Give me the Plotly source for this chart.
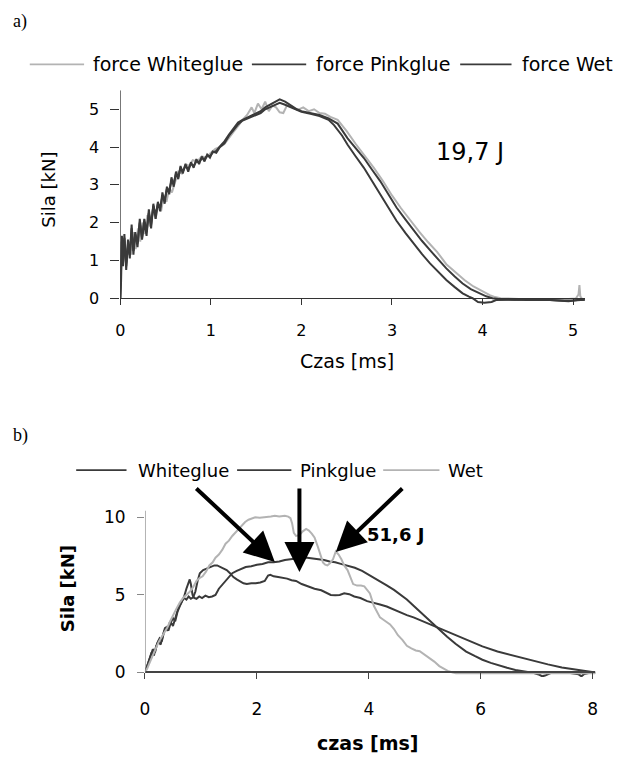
import plotly.graph_objects as go

# ---------------- data: panel a) ----------------
a_white_t = [0.00,0.012,0.025,0.045,0.07,0.095,0.12,0.145,0.17,0.195,
             0.22,0.245,0.27,0.30,0.33,0.36,0.39,0.42,0.45,0.48,
             0.51,0.54,0.57,0.60,0.64,0.68,0.72,0.76,0.80,0.85,
             0.90,0.95,1.00,1.05,
             1.10,1.15,1.20,1.25,1.30,1.35,1.40,1.45,1.48,1.52,
             1.56,1.60,1.64,1.68,1.72,1.76,1.80,1.84,1.90,1.96,
             2.02,2.08,2.14,2.20,2.26,2.32,2.40,2.50,2.60,2.70,
             2.80,2.90,3.00,3.10,3.20,3.30,3.40,3.50,3.60,3.70,
             3.80,3.90,4.00,4.08,4.14,4.20,4.40,4.60,4.80,4.95,
             5.03,5.06,5.07,5.08,5.10,5.13]
a_white_f = [0.00,1.50,1.10,1.55,0.95,1.50,1.15,1.75,1.30,1.85,
             1.50,2.00,1.70,2.20,1.90,2.35,2.10,2.50,2.30,2.70,
             2.55,2.90,2.80,3.05,3.35,3.30,3.55,3.50,3.65,3.62,
             3.75,3.72,3.85,3.95,
             4.00,4.08,4.25,4.40,4.55,4.72,4.85,5.05,4.90,5.15,
             5.00,5.20,4.95,5.10,5.05,4.92,4.90,5.10,5.05,4.98,
             5.05,4.95,5.00,4.90,4.88,4.80,4.72,4.42,4.08,3.78,
             3.45,3.10,2.72,2.38,2.06,1.76,1.48,1.22,0.90,0.68,
             0.48,0.31,0.17,0.08,0.03,0.00,-0.02,-0.03,-0.02,-0.02,
             -0.01,0.10,0.35,0.05,-0.02,-0.02]

a_pink_t = [0.000,0.008,0.018,0.030,0.045,0.065,0.085,0.105,0.125,0.145,
            0.165,0.19,0.215,0.24,0.265,0.29,0.315,0.34,0.365,0.39,
            0.415,0.44,0.465,0.49,0.515,0.54,0.565,0.59,0.615,0.64,
            0.665,0.69,0.72,0.75,0.78,0.81,0.84,0.87,0.90,0.93,
            0.96,0.99,1.02,1.06,1.10,
            1.15,1.20,1.25,1.30,1.35,1.40,1.45,1.50,1.55,1.60,
            1.65,1.70,1.76,1.82,1.88,1.95,2.00,2.10,2.20,2.30,
            2.36,2.45,2.51,2.60,2.69,2.78,2.87,2.96,3.05,3.15,
            3.24,3.33,3.42,3.51,3.60,3.69,3.78,3.85,3.89,3.95,
            4.02,4.10,4.15,4.30,4.50,4.70,4.85,4.95,5.05,5.13]
a_pink_f = [0.00,0.50,1.65,0.85,1.70,0.75,1.55,1.05,1.95,1.15,
            1.75,1.35,2.10,1.55,2.00,1.65,2.35,1.85,2.50,2.10,
            2.55,2.30,2.80,2.50,2.95,2.75,3.20,2.95,3.35,3.15,
            3.50,3.30,3.55,3.35,3.60,3.45,3.68,3.55,3.75,3.62,
            3.80,3.72,3.88,3.85,4.00,
            4.10,4.30,4.45,4.60,4.70,4.75,4.80,4.85,4.90,5.00,
            5.06,5.10,5.17,5.12,5.05,4.97,4.93,4.88,4.82,4.72,
            4.58,4.30,4.06,3.75,3.45,3.10,2.75,2.40,2.05,1.72,
            1.44,1.17,0.92,0.69,0.48,0.30,0.13,0.04,0.00,-0.10,
            -0.12,-0.10,-0.05,-0.04,-0.05,-0.04,-0.06,-0.08,-0.05,-0.04]

a_wet_t = [0.000,0.008,0.018,0.030,0.045,0.065,0.085,0.105,0.125,0.145,
           0.165,0.19,0.215,0.24,0.265,0.29,0.315,0.34,0.365,0.39,
           0.415,0.44,0.465,0.49,0.515,0.54,0.565,0.59,0.615,0.64,
           0.665,0.69,0.72,0.75,0.78,0.81,0.84,0.87,0.90,0.93,
           0.96,0.99,1.02,1.06,1.10,
           1.15,1.20,1.25,1.30,1.35,1.40,1.45,1.50,1.55,1.60,
           1.65,1.70,1.76,1.82,1.88,1.95,2.00,2.10,2.20,2.30,
           2.40,2.51,2.60,2.69,2.78,2.87,2.96,3.05,3.15,3.24,
           3.33,3.42,3.51,3.60,3.69,3.78,3.87,3.96,4.04,4.11,
           4.20,4.35,4.55,4.75,4.90,5.00,5.10,5.13]
a_wet_f = [0.00,0.40,1.55,0.95,1.60,0.85,1.45,1.15,1.85,1.25,
           1.70,1.45,2.00,1.60,2.10,1.75,2.25,1.95,2.45,2.20,
           2.50,2.40,2.70,2.60,2.90,2.85,3.10,3.05,3.30,3.20,
           3.45,3.35,3.50,3.42,3.55,3.50,3.62,3.60,3.70,3.68,
           3.78,3.76,3.85,3.90,4.02,
           4.15,4.33,4.50,4.65,4.72,4.78,4.84,4.88,4.95,5.05,
           5.12,5.18,5.26,5.20,5.10,5.00,4.95,4.90,4.85,4.76,
           4.62,4.23,3.98,3.71,3.40,3.10,2.75,2.40,2.08,1.79,
           1.52,1.27,1.02,0.79,0.58,0.39,0.24,0.13,0.05,0.00,
           -0.03,-0.04,-0.03,-0.05,-0.07,-0.06,-0.04,-0.04]

a_x_ticks = [0, 1, 2, 3, 4, 5]
a_y_ticks = [0, 1, 2, 3, 4, 5]
a_names = ["force Whiteglue", "force Pinkglue", "force Wet"]
a_energy = "19,7 J"

# ---------------- data: panel b) ----------------
b_white_t = [0.00,0.04,0.08,0.12,0.16,0.20,0.24,0.28,0.32,0.36,
             0.40,0.45,0.50,0.55,0.60,0.65,0.70,0.74,0.78,0.80,
             0.82,0.85,0.88,0.92,0.97,1.02,1.08,1.14,1.20,1.26,
             1.32,1.40,1.48,1.56,1.64,1.72,1.80,1.90,2.00,2.10,
             2.20,2.30,2.40,2.50,2.60,2.70,2.80,2.90,3.00,3.10,
             3.20,3.30,3.40,3.50,3.62,3.75,3.88,4.00,4.10,4.20,
             4.32,4.45,4.56,4.68,4.80,4.92,5.03,5.15,5.28,5.40,
             5.55,5.74,5.90,6.03,6.18,6.32,6.47,6.62,6.75,6.85,
             6.95,7.05,7.10,7.15,7.25,7.40,7.60,7.75,7.80,7.85,
             7.95,8.05]
b_white_f = [0.00,0.40,0.90,1.30,1.10,1.70,2.00,1.80,2.40,2.90,
             2.70,3.30,3.00,3.60,4.20,4.50,4.90,5.40,5.90,6.00,
             5.70,5.00,4.80,4.75,4.90,4.80,4.95,4.85,4.90,5.00,
             5.40,5.75,6.10,6.40,6.55,6.65,6.80,6.85,6.95,7.00,
             7.10,7.10,7.15,7.25,7.30,7.35,7.40,7.40,7.35,7.30,
             7.25,7.15,7.10,7.00,6.90,6.75,6.55,6.30,6.10,5.90,
             5.62,5.32,5.05,4.70,4.30,3.90,3.50,3.10,2.70,2.30,
             1.85,1.35,1.05,0.82,0.62,0.45,0.30,0.16,0.07,0.02,
             -0.03,-0.15,-0.25,-0.20,-0.04,-0.03,-0.03,-0.12,-0.25,-0.10,
             -0.02,-0.02]

b_pink_t = [0.00,0.03,0.06,0.10,0.14,0.18,0.22,0.26,0.30,0.34,
            0.38,0.42,0.46,0.50,0.54,0.58,0.62,0.66,0.70,0.74,
            0.78,0.82,0.86,0.90,0.94,0.98,1.04,1.10,1.18,1.24,
            1.29,1.34,1.40,1.46,1.52,1.58,1.64,1.70,1.76,1.82,
            1.90,1.98,2.06,2.14,2.20,2.24,2.30,2.38,2.46,2.54,
            2.62,2.70,2.80,2.91,3.03,3.15,3.25,3.32,3.40,3.48,
            3.56,3.65,3.74,3.85,3.97,4.09,4.20,4.32,4.44,4.56,
            4.68,4.80,5.00,5.20,5.40,5.60,5.85,6.03,6.30,6.62,
            6.90,7.20,7.45,7.68,7.85,7.97,8.05]
b_pink_f = [0.00,0.30,0.70,1.10,1.50,1.30,1.90,2.20,2.00,2.60,
            2.90,2.70,3.20,3.50,3.30,3.90,4.30,4.60,4.80,4.70,
            4.90,4.75,4.85,5.20,5.90,6.40,6.60,6.70,6.80,6.90,
            6.90,6.80,6.70,6.60,6.40,6.15,6.00,5.85,5.75,5.70,
            5.75,5.75,5.80,5.90,6.25,6.30,6.20,6.15,6.10,6.05,
            5.95,5.90,5.70,5.55,5.40,5.30,5.15,5.00,4.98,5.00,
            5.10,5.05,4.90,4.80,4.60,4.50,4.38,4.25,4.05,3.90,
            3.70,3.55,3.25,2.95,2.62,2.30,1.95,1.68,1.35,1.05,
            0.78,0.52,0.32,0.18,0.08,0.02,0.00]

b_wet_t = [0.00,0.04,0.08,0.12,0.16,0.20,0.25,0.30,0.35,0.40,
           0.45,0.50,0.56,0.62,0.68,0.74,0.80,0.86,0.92,0.98,
           1.03,1.09,1.15,1.21,1.26,1.32,1.38,1.44,1.50,1.56,
           1.62,1.68,1.74,1.79,1.85,1.91,1.97,2.05,2.15,2.25,
           2.32,2.40,2.50,2.56,2.60,2.63,2.66,2.70,2.76,2.82,
           2.88,2.93,2.98,3.03,3.09,3.14,3.18,3.22,3.26,3.31,
           3.36,3.41,3.46,3.51,3.56,3.62,3.67,3.72,3.79,3.86,
           3.92,3.97,4.02,4.09,4.15,4.20,4.28,4.38,4.45,4.52,
           4.60,4.68,4.76,4.84,4.91,5.00,5.09,5.17,5.26,5.33,
           5.41,5.50,5.56,5.80,6.20,6.60,7.00,7.40,7.80,8.05]
b_wet_f = [0.00,0.25,0.60,0.90,1.30,1.60,2.00,2.30,2.60,2.90,
           3.30,3.70,4.10,4.50,4.80,5.00,5.20,5.50,5.90,6.10,
           6.20,6.50,6.90,7.10,7.40,7.60,7.90,8.30,8.50,8.80,
           9.05,9.30,9.50,9.70,9.85,9.95,10.00,9.98,10.00,10.05,
           10.10,10.05,10.10,10.05,9.95,9.60,9.00,8.80,8.85,9.10,
           9.25,9.15,8.95,8.70,8.10,7.50,7.10,6.95,6.90,7.05,
           7.30,7.80,7.60,7.30,6.90,6.60,6.10,5.70,5.60,5.60,
           5.55,5.30,5.10,4.30,3.90,3.55,3.35,3.10,2.80,2.40,
           2.10,1.72,1.55,1.42,1.37,1.15,0.95,0.70,0.41,0.25,
           0.10,0.00,-0.05,-0.05,-0.05,-0.05,-0.04,-0.05,-0.05,-0.05]

b_x_ticks = [0, 2, 4, 6, 8]
b_y_ticks = [0, 5, 10]
b_names = ["Whiteglue", "Pinkglue", "Wet"]
b_energy = "51,6 J"
# arrow targets (time, force) for Whiteglue, Pinkglue, Wet
b_arrow_t = [2.32, 2.76, 3.41]
b_arrow_f = [7.12, 6.48, 7.76]

# ---------------- styling ----------------
W, H = 623, 760
OFF = 8  # the page body margin shifts the figure by this many pixels
FONT = "DejaVu Sans"
DARK = "#3a3a3a"
LIGHT = "#b3b3b3"


def fx(p):
    return (p - OFF) / W


def fy(p):
    return 1 - (p - OFF) / H


fig = go.Figure()

a_series = [(a_white_t, a_white_f, LIGHT), (a_pink_t, a_pink_f, DARK), (a_wet_t, a_wet_f, DARK)]
for (t, f, c), n in zip(a_series, a_names):
    fig.add_trace(go.Scatter(x=t, y=f, mode="lines", name=n, showlegend=False,
                             line=dict(color=c, width=2), xaxis="x", yaxis="y"))

b_series = [(b_white_t, b_white_f, DARK), (b_pink_t, b_pink_f, DARK), (b_wet_t, b_wet_f, LIGHT)]
for (t, f, c), n in zip(b_series, b_names):
    fig.add_trace(go.Scatter(x=t, y=f, mode="lines", name=n, showlegend=False,
                             line=dict(color=c, width=2), xaxis="x2", yaxis="y2"))

tickfont_a = dict(family=FONT, size=16, color="black")
tickfont_b = dict(family=FONT, size=17, color="black")

fig.update_layout(
    width=W, height=H, margin=dict(l=0, r=0, t=0, b=0),
    paper_bgcolor="white", plot_bgcolor="white",
    xaxis=dict(domain=[fx(116.7), fx(587.3)], range=[0, 5.13], anchor="free", position=fy(298.3),
               showline=True, linecolor="#333", linewidth=1.3, ticks="outside", ticklen=6,
               tickcolor="#333", tickwidth=1.3, tickvals=a_x_ticks, tickfont=tickfont_a,
               showgrid=False, zeroline=False, ticklabelstandoff=11),
    yaxis=dict(domain=[fy(305.9), fy(88.2)], range=[-0.2, 5.5], anchor="x",
               showline=False, ticks="outside", ticklen=9, tickcolor="#333", tickwidth=1.3,
               tickvals=a_y_ticks, tickfont=tickfont_a, showgrid=False, zeroline=False,
               ticklabelstandoff=8),
    xaxis2=dict(domain=[fx(141.7), fx(598)], range=[0, 8.05], anchor="free", position=fy(676.5),
                showline=True, linecolor="#444", linewidth=1.5, ticks="outside", ticklen=6,
                tickcolor="#444", tickwidth=1.3, tickvals=b_x_ticks, tickfont=tickfont_b,
                showgrid=False, zeroline=False, ticklabelstandoff=15),
    yaxis2=dict(domain=[fy(681.2), fy(512.7)], range=[-0.3, 10.45], anchor="x2",
                showline=False, ticks="outside", ticklen=7, tickcolor="#888", tickwidth=1.3,
                tickvals=b_y_ticks, tickfont=tickfont_b, showgrid=False, zeroline=False,
                ticklabelstandoff=8),
)

shapes = [
    dict(type="line", xref="x", yref="y", x0=0, x1=0, y0=0, y1=5.5,
         line=dict(color="#333", width=1.3)),
    dict(type="line", xref="x2", yref="y2", x0=0, x1=0, y0=0, y1=10.45,
         line=dict(color="#888", width=1.3)),
]

annotations = []

# legends (drawn manually to match the original layout)
leg_a = [(25, 80, 87, LIGHT), (250, 305, 313, DARK), (461, 513, 522, DARK)]
for (l0, l1, tx, c), n in zip(leg_a, a_names):
    shapes.append(dict(type="line", xref="paper", yref="paper", x0=fx(l0), x1=fx(l1),
                       y0=fy(62), y1=fy(62), line=dict(color=c, width=1.8)))
    annotations.append(dict(xref="paper", yref="paper", x=fx(tx), y=fy(62), text=n,
                            showarrow=False, xanchor="left", yanchor="middle",
                            font=dict(family=FONT, size=19, color="black")))
leg_b = [(72, 123, 133, DARK), (235, 290, 297, DARK), (383, 440, 447, LIGHT)]
for (l0, l1, tx, c), n in zip(leg_b, b_names):
    shapes.append(dict(type="line", xref="paper", yref="paper", x0=fx(l0), x1=fx(l1),
                       y0=fy(472), y1=fy(472), line=dict(color=c, width=1.8)))
    annotations.append(dict(xref="paper", yref="paper", x=fx(tx), y=fy(472), text=n,
                            showarrow=False, xanchor="left", yanchor="middle",
                            font=dict(family=FONT, size=18, color="black")))

# panel labels
annotations.append(dict(xref="paper", yref="paper", x=fx(6), y=fy(19), text="a)", showarrow=False,
                        xanchor="left", yanchor="middle",
                        font=dict(family="Liberation Serif", size=18, color="black")))
annotations.append(dict(xref="paper", yref="paper", x=fx(6), y=fy(437), text="b)", showarrow=False,
                        xanchor="left", yanchor="middle",
                        font=dict(family="Liberation Serif", size=18, color="black")))

# axis titles
annotations.append(dict(xref="paper", yref="paper", x=fx(44), y=fy(189), text="Sila [kN]",
                        textangle=-90, showarrow=False, xanchor="center", yanchor="middle",
                        font=dict(family=FONT, size=18, color="black")))
annotations.append(dict(xref="paper", yref="paper", x=fx(346), y=fy(362), text="Czas [ms]",
                        showarrow=False, xanchor="center", yanchor="middle",
                        font=dict(family=FONT, size=19, color="black")))
annotations.append(dict(xref="paper", yref="paper", x=fx(64), y=fy(592), text="<b>Sila [kN]</b>",
                        textangle=-90, showarrow=False, xanchor="center", yanchor="middle",
                        font=dict(family=FONT, size=18, color="black")))
annotations.append(dict(xref="paper", yref="paper", x=fx(368), y=fy(748), text="<b>czas [ms]</b>",
                        showarrow=False, xanchor="center", yanchor="middle",
                        font=dict(family=FONT, size=19, color="black")))

# energy labels
annotations.append(dict(xref="paper", yref="paper", x=fx(471), y=fy(151), text=a_energy,
                        showarrow=False, xanchor="center", yanchor="middle",
                        font=dict(family=FONT, size=24, color="black")))
annotations.append(dict(xref="paper", yref="paper", x=fx(395), y=fy(537), text="<b>" + b_energy + "</b>",
                        showarrow=False, xanchor="center", yanchor="middle",
                        font=dict(family=FONT, size=18, color="black")))

# arrows
arrow_offsets = [(-80, -75), (0, -85), (68, -65)]
for t, f, (ax, ay) in zip(b_arrow_t, b_arrow_f, arrow_offsets):
    annotations.append(dict(xref="x2", yref="y2", x=t, y=f, ax=ax, ay=ay, axref="pixel", ayref="pixel",
                            text="", showarrow=True, arrowhead=2, arrowsize=1.5, arrowwidth=4,
                            arrowcolor="black", standoff=0))

fig.update_layout(shapes=shapes, annotations=annotations)

fig.write_html("out.html")
